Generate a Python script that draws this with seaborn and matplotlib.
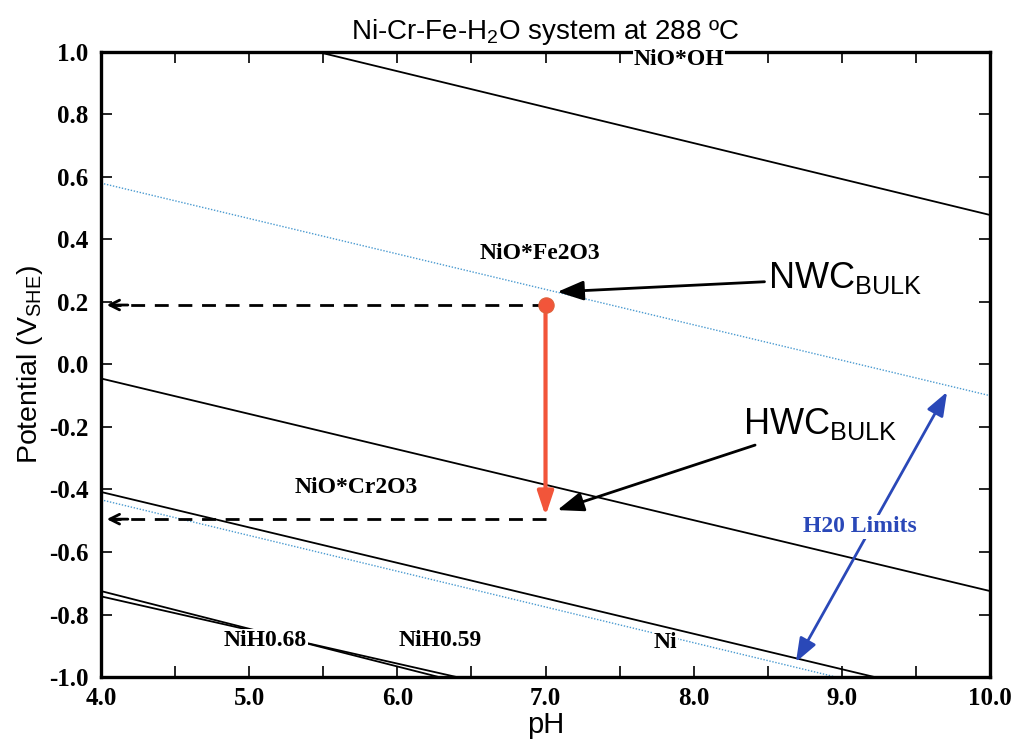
import numpy as np
import pandas as pd
import matplotlib
matplotlib.use("Agg")
import matplotlib.pyplot as plt
from matplotlib import font_manager
from matplotlib.ticker import MultipleLocator
import seaborn as sns

# boundary lines of the Pourbaix diagram: (pH start, E start, pH end, E end)
solid_names = ["NiOOH/Fe2O4", "Fe2O4/Cr2O4", "Cr2O4/Ni", "NiH068_a", "NiH068_b"]
solid_ph0 = [5.46, 4.0, 4.0, 4.0, 4.0]
solid_e0 = [1.0, -0.045, -0.408, -0.725, -0.742]
solid_ph1 = [10.0, 10.0, 9.22, 6.28, 6.40]
solid_e1 = [0.478, -0.725, -1.0, -1.0, -1.0]

# water stability limits (blue dotted)
water_names = ["O2/H2O", "H2O/H2"]
water_ph0 = [4.0, 4.0]
water_e0 = [0.58, -0.433]
water_ph1 = [10.0, 8.96]
water_e1 = [-0.10, -1.0]

# NWC / HWC corrosion potentials at pH 7
point_ph = 7.0
nwc_e = 0.19
hwc_e = -0.495

region_labels = ["NiO*OH", "NiO*Fe2O3", "NiO*Cr2O3", "NiH0.68", "NiH0.59", "Ni"]
region_ph = [7.9, 6.96, 5.72, 5.11, 6.29, 7.81]
region_e = [0.975, 0.355, -0.393, -0.883, -0.883, -0.89]

xticks = [4.0, 5.0, 6.0, 7.0, 8.0, 9.0, 10.0]
xticklabels = ["4.0", "5.0", "6.0", "7.0", "8.0", "9.0", "10.0"]
yticks = [1.0, 0.8, 0.6, 0.4, 0.2, 0.0, -0.2, -0.4, -0.6, -0.8, -1.0]
yticklabels = ["1.0", "0.8", "0.6", "0.4", "0.2", "0.0", "-0.2", "-0.4", "-0.6", "-0.8", "-1.0"]


def has_font(name):
    try:
        font_manager.findfont(name, fallback_to_default=False)
        return True
    except Exception:
        return False


sns.set_style("ticks")
sans = "Liberation Sans Narrow" if has_font("Liberation Sans Narrow") else "Liberation Sans"
plt.rcParams["font.family"] = [sans, "DejaVu Sans"]
plt.rcParams["mathtext.fontset"] = "custom"
plt.rcParams["mathtext.default"] = "regular"
plt.rcParams["mathtext.rm"] = sans
plt.rcParams["text.color"] = "black"
plt.rcParams["axes.labelcolor"] = "black"
plt.rcParams["axes.edgecolor"] = "black"
plt.rcParams["xtick.color"] = "black"
plt.rcParams["ytick.color"] = "black"
serif = "Liberation Serif"

rows = []
for name, a, b, c, d in zip(solid_names, solid_ph0, solid_e0, solid_ph1, solid_e1):
    rows += [(name, a, b), (name, c, d)]
solid_df = pd.DataFrame(rows, columns=["line", "pH", "E"])
rows = []
for name, a, b, c, d in zip(water_names, water_ph0, water_e0, water_ph1, water_e1):
    rows += [(name, a, b), (name, c, d)]
water_df = pd.DataFrame(rows, columns=["line", "pH", "E"])

fig = plt.figure(figsize=(10.12, 7.4), dpi=100)
ax = fig.add_axes([0.0998, 0.0851, 0.8785, 0.8449])

sns.lineplot(data=solid_df, x="pH", y="E", units="line", estimator=None,
             color="black", lw=1.3, sort=False, ax=ax)
sns.lineplot(data=water_df, x="pH", y="E", units="line", estimator=None,
             color="#4a9ad0", lw=1.0, ls=(0, (1, 1.2)), sort=False, ax=ax)

# dashed guide lines to the potential axis
for e in [nwc_e, hwc_e]:
    ax.plot([point_ph, 4.06], [e, e], color="black", lw=2, ls=(0, (5, 3.5)))
    ax.annotate("", xy=(4.02, e), xytext=(4.2, e),
                arrowprops=dict(arrowstyle="->,head_length=0.7,head_width=0.35",
                                color="black", lw=2))

# NWC -> HWC drop
ax.annotate("", xy=(point_ph, hwc_e + 0.01), xytext=(point_ph, nwc_e),
            arrowprops=dict(arrowstyle="-|>,head_length=0.9,head_width=0.3",
                            color="#f2553a", lw=3, shrinkA=0, shrinkB=0,
                            mutation_scale=16))
sns.scatterplot(x=[point_ph], y=[nwc_e], color="#f2553a", s=120,
                edgecolor="#e0603a", zorder=5, ax=ax)

# pointer labels
ax.annotate("NWC$_{BULK}$", xy=(7.08, 0.232), xytext=(8.5, 0.277),
            fontsize=26, va="center", ha="left",
            arrowprops=dict(arrowstyle="-|>,head_length=0.8,head_width=0.3",
                            color="black", lw=2, shrinkA=0, shrinkB=0,
                            mutation_scale=20))
ax.annotate("HWC$_{BULK}$", xy=(7.08, -0.466), xytext=(8.33, -0.19),
            fontsize=26, va="center", ha="left",
            arrowprops=dict(arrowstyle="-|>,head_length=0.8,head_width=0.3",
                            color="black", lw=2, shrinkA=0, shrinkB=0,
                            mutation_scale=20))

# water limit double arrow
ax.annotate("", xy=(9.71, -0.088), xytext=(8.69, -0.952),
            arrowprops=dict(arrowstyle="<|-|>,head_length=0.8,head_width=0.3",
                            color="#2a48b8", lw=2, shrinkA=0, shrinkB=0,
                            mutation_scale=18))
ax.text(9.12, -0.52, "H20 Limits", color="#2a48b8", fontsize=17,
        fontweight="bold", family=serif, ha="center", va="center",
        bbox=dict(facecolor="white", edgecolor="none", pad=1))

for lab, x, y in zip(region_labels, region_ph, region_e):
    ax.text(x, y, lab, fontsize=17, fontweight="bold", family=serif,
            ha="center", va="center", zorder=6, clip_on=False,
            bbox=dict(facecolor="white", edgecolor="none", pad=0.5))

ax.set_xlim(4.0, 10.0)
ax.set_ylim(-1.0, 1.0)
ax.set_xticks(xticks)
ax.set_xticklabels(xticklabels)
ax.set_yticks(yticks)
ax.set_yticklabels(yticklabels)
ax.xaxis.set_minor_locator(MultipleLocator(0.5))
ax.tick_params(which="both", direction="in", length=8, width=1.2,
               top=True, right=True, pad=9)
ax.tick_params(axis="x", which="both", pad=7)
for t in ax.get_xticklabels() + ax.get_yticklabels():
    t.set_family(serif)
    t.set_fontweight("bold")
    t.set_fontsize(18)
for s in ax.spines.values():
    s.set_linewidth(2.4)

ax.set_xlabel("pH", fontsize=21, labelpad=1)
ax.set_ylabel("Potential (V$_{SHE}$)", fontsize=20.5, labelpad=3)
ax.set_title("Ni-Cr-Fe-H$_2$O system at 288 ºC", fontsize=20, pad=9)

fig.savefig("out.png", dpi=100)
